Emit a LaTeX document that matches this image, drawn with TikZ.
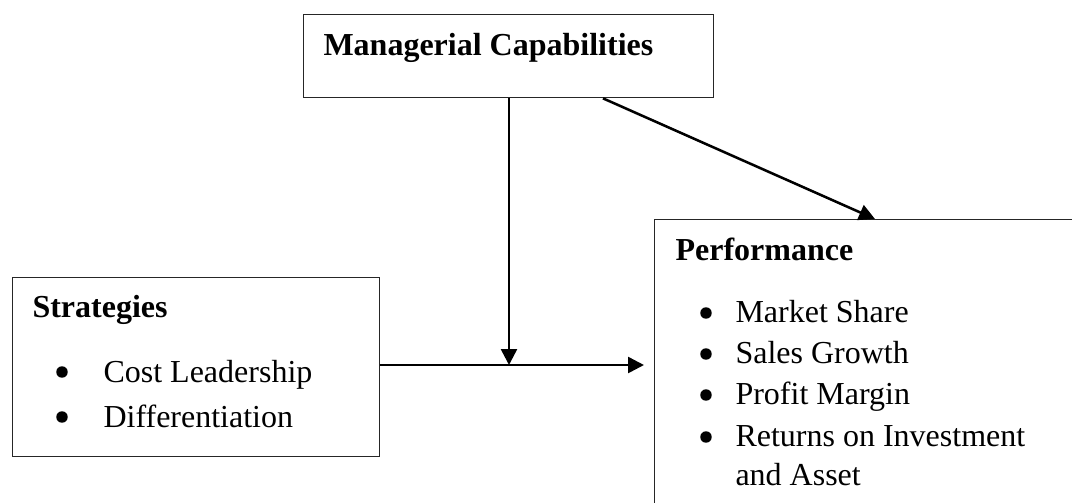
\documentclass[tikz,border=0pt]{standalone}
\usepackage{fontspec}
\setmainfont{Liberation Serif}
\usetikzlibrary{arrows.meta}

\tikzset{
  box/.style={draw=black!85, line width=0.5pt, fill=none, inner sep=0pt, anchor=north west},
  label/.style={inner sep=0pt, anchor=base west, font=\fontsize{12pt}{14pt}\selectfont},
  head/.style={label, font=\fontsize{12pt}{14pt}\selectfont\bfseries},
  dot/.style={circle, fill=black, inner sep=0pt, minimum size=4.3pt},
  link/.style={line width=0.95pt, -{Triangle[length=6pt, width=6pt]}}
}

\begin{document}
\begin{tikzpicture}[x=0.375pt, y=-0.375pt]
  \useasboundingbox (0,0) rectangle (1072,502);
  \clip (0,0) rectangle (1072,502);

  % boxes
  \node[box, minimum width=153.75pt, minimum height=31.125pt] (mgr) at (303,14) {};
  \node[box, minimum width=137.625pt, minimum height=67.125pt] (strat) at (12,277) {};
  \node[box, minimum width=167.25pt, minimum height=116.625pt] (perf) at (654,219) {};

  % managerial capabilities
  \node[head] (mgrtitle) at (323,55) {Managerial Capabilities};

  % strategies
  \node[head] (strattitle) at (32,317) {Strategies};
  \node[dot] (sb1) at (62,372) {};
  \node[label] (s1) at (103,382) {Cost Leadership};
  \node[dot] (sb2) at (62,417) {};
  \node[label] (s2) at (103,427) {Differentiation};

  % performance
  \node[head] (perftitle) at (675,260) {Performance};
  \node[dot] (pb1) at (706,313) {};
  \node[label] (p1) at (735,322) {Market Share};
  \node[dot] (pb2) at (706,354) {};
  \node[label] (p2) at (735,363) {Sales Growth};
  \node[dot] (pb3) at (706,395) {};
  \node[label] (p3) at (735,404) {Profit Margin};
  \node[dot] (pb4) at (706,437) {};
  \node[label] (p4) at (735,446) {Returns on Investment};
  \node[label] (p5) at (735,485) {and Asset};

  % connectors
  \coordinate (j) at (509,365);
  \draw[link] (j |- mgr.south) -- (j);
  \draw[link, shorten >=3.75pt] (strat.east |- j) -- (perf.west |- j);
  \draw[link] (603,0 |- mgr.south) -- (875,0 |- perf.north);
\end{tikzpicture}
\end{document}
